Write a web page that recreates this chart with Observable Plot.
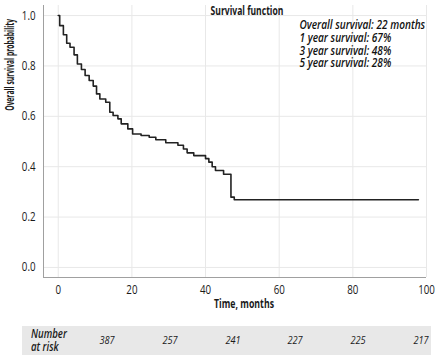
<!DOCTYPE html>
<html>
<head>
<meta charset="utf-8">
<script src="https://cdn.jsdelivr.net/npm/d3@7"></script>
<script src="https://cdn.jsdelivr.net/npm/@observablehq/plot@0.6"></script>
<style>
  html, body { margin: 0; padding: 0; background: #fff; }
  body { width: 444px; height: 360px; overflow: hidden; font-family: "Open Sans", "Noto Sans", sans-serif; }
  #chart svg { display: block; }
  .risk { position: relative; margin-left: 22px; margin-top: 8px; width: 409px; height: 29px; background: #e8e8e8;
          font-style: italic; color: #1a1a1a; font-size: 11.5px; }
  .risk .lab { position: absolute; left: 9px; top: 1px; line-height: 13px; font-weight: 600; font-size: 12px;
               transform-origin: left top; transform: scaleX(0.8); }
  .risk .n { position: absolute; top: 6px; transform: translateX(-50%) scaleX(0.8); }
</style>
</head>
<body>
<div id="chart"></div>
<div class="risk" id="risk"></div>
<script>
// Kaplan–Meier estimate (time in months, survival after each step)
const times    = [0, 0.4, 1.4, 2.3, 3.2, 4.3, 5.2, 6.3, 7.3, 8.4, 9.5, 10.4, 11.3, 12.9, 14.0, 14.9, 16.2, 17.1, 18.9, 20.2,
                  22.5, 24.7, 26.5, 29.2, 32.5, 34.0, 35.0, 36.8, 40.0, 40.9, 41.8, 42.7, 44.9, 46.9, 47.8, 97.8];
const survival = [1.0, 0.960, 0.924, 0.890, 0.874, 0.844, 0.808, 0.786, 0.762, 0.742, 0.720, 0.689, 0.669, 0.656, 0.616, 0.603, 0.590, 0.570, 0.550, 0.530,
                  0.524, 0.517, 0.507, 0.495, 0.485, 0.470, 0.455, 0.444, 0.432, 0.418, 0.400, 0.385, 0.370, 0.279, 0.269, 0.269];
const xTicks = [0, 20, 40, 60, 80, 100];
const yTicks = [0.0, 0.2, 0.4, 0.6, 0.8, 1.0];
const xDomain = [-4, 100];
const yDomain = [-0.04, 1.04];
const titleText = "Survival function";
const xLabel = "Time, months";
const yLabel = "Overall survival probability";
const notes = ["Overall survival: 22 months", "1 year survival: 67%", "3 year survival: 48%", "5 year survival: 28%"];
const riskLabel = ["Number", "at risk"];
const riskCounts = [387, 257, 241, 227, 225, 217];

const data = times.map((t, i) => ({t, s: survival[i]}));
const font = `"Open Sans", "Noto Sans", sans-serif`;

const chart = Plot.plot({
  width: 444,
  height: 318,
  marginLeft: 43,
  marginRight: 18,
  marginTop: 5,
  marginBottom: 41,
  style: {fontFamily: font, fontSize: "12px", color: "#1a1a1a", background: "#fff", overflow: "visible"},
  x: {domain: xDomain, ticks: xTicks},
  y: {domain: yDomain, ticks: yTicks},
  marks: [
    Plot.gridX(xTicks, {stroke: "#e8e8e8", strokeOpacity: 1}),
    Plot.gridY(yTicks, {stroke: "#e8e8e8", strokeOpacity: 1}),
    Plot.axisX(xTicks, {tickSize: 0, tickPadding: 8, label: null, fontSize: 12.5, className: "sq-tick"}),
    Plot.axisY(yTicks, {tickSize: 0, tickPadding: 8, label: null, tickFormat: d3.format(".1f"), fontSize: 12.5, className: "sq-tick"}),
    Plot.ruleX([xDomain[0]], {stroke: "#a0a0a0", strokeWidth: 1}),
    Plot.ruleY([yDomain[0]], {stroke: "#a0a0a0", strokeWidth: 1}),
    Plot.line(data, {x: "t", y: "s", curve: "step-after", stroke: "#222", strokeWidth: 1.6}),
    Plot.text([titleText], {frameAnchor: "top", dx: 12, dy: 1, text: d => d, fontWeight: "bold", fontSize: 11.5, fill: "#1a1a1a", className: "sq-title"}),
    Plot.text([notes.join("\n")], {frameAnchor: "top-left", dx: 256, dy: 15, text: d => d, textAnchor: "start", lineAnchor: "top", lineHeight: 1.008,
      fontStyle: "italic", fontWeight: 600, fontSize: 12.5, fill: "#111", className: "sq-notes"}),
    Plot.text([xLabel], {frameAnchor: "bottom", dx: 9, dy: 30, text: d => d, fontWeight: "bold", fontSize: 12, fill: "#1a1a1a", className: "sq-xlab"}),
    Plot.text([yLabel], {frameAnchor: "left", dx: -33, dy: 5, rotate: -90, text: d => d, fontWeight: "bold", fontSize: 12, fill: "#1a1a1a", className: "sq-ylab"})
  ]
});
document.getElementById("chart").append(chart);

// narrow the glyphs (around each text's anchor) to mimic the condensed face of the original
const SVGNS = "http://www.w3.org/2000/svg";
function squeeze(cls, factor, vertical = false) {
  chart.querySelectorAll(`.${cls} text`).forEach(t => {
    const g = document.createElementNS(SVGNS, "g");
    t.parentNode.insertBefore(g, t);
    g.appendChild(t);
    const b = g.getBBox();
    if (vertical) {
      const ay = b.y + b.height / 2;
      g.setAttribute("transform", `translate(0,${ay}) scale(1,${factor}) translate(0,${-ay})`);
    } else {
      const anchor = getComputedStyle(t).textAnchor;
      const ax = anchor === "middle" ? b.x + b.width / 2 : anchor === "end" ? b.x + b.width : b.x;
      g.setAttribute("transform", `translate(${ax},0) scale(${factor},1) translate(${-ax},0)`);
    }
  });
}
function squeezeTo(cls, target, vertical = false) {
  const first = chart.querySelector(`.${cls} text`);
  if (!first) return;
  const b = first.getBBox();
  squeeze(cls, target / (vertical ? first.getComputedTextLength() : b.width), vertical);
}
squeeze("sq-tick", 0.78);
squeezeTo("sq-title", 73);
squeezeTo("sq-notes", 126);
squeezeTo("sq-xlab", 60);
squeezeTo("sq-ylab", 92, true);

const risk = document.getElementById("risk");
const lab = document.createElement("div");
lab.className = "lab";
lab.innerHTML = riskLabel.join("<br>");
risk.append(lab);
riskCounts.forEach((c, i) => {
  const s = document.createElement("span");
  s.className = "n";
  s.textContent = c;
  s.style.left = (85 + i * 62.8) + "px";
  risk.append(s);
});
</script>
</body>
</html>
